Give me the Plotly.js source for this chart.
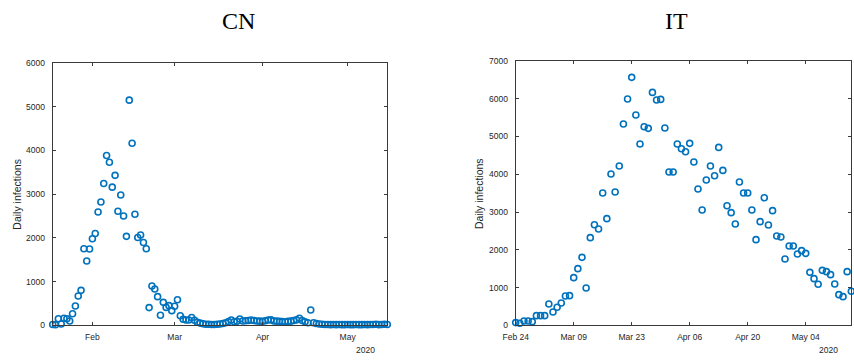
<!DOCTYPE html>
<html>
<head>
<meta charset="utf-8">
<script src="https://cdn.plot.ly/plotly-3.0.1.min.js"></script>
<style>
html, body { margin: 0; padding: 0; background: #ffffff; }
#chart { width: 854px; height: 360px; }
</style>
</head>
<body>
<div id="chart"></div>
<script>
// ---- Data ----
const cnStart = '2020-01-18';
const cnEnd = '2020-05-15';
const cnDaily = [
  20, 15, 150, 30, 160, 150, 100, 265, 440, 670, 800,
  1750, 1470, 1745, 1980, 2100, 2590, 2820, 3245, 3885, 3730,
  3160, 3430, 2610, 2980, 2500, 2035, 5150, 4165, 2540, 2010,
  2065, 1895, 1750, 405, 900, 830, 655, 230, 525, 410,
  450, 335, 435, 585, 220, 140, 120, 120, 180, 115,
  70, 50, 35, 25, 25, 20, 20, 25, 30, 40,
  60, 85, 120, 80, 90, 145, 100, 105, 110, 120,
  110, 100, 95, 90, 105, 120, 125, 100, 95, 90,
  85, 80, 90, 95, 110, 125, 160, 110, 80, 60,
  351,
  60, 40, 30, 25, 20, 20, 15, 20, 15,
  20, 15, 15, 20, 15, 15, 20, 15, 15, 20,
  15, 20, 20, 25, 15, 20, 25, 20
];

const itStart = '2020-02-24';
const itEnd = '2020-05-15';
const itDaily = [
  71, 53, 115, 115, 97, 256, 256, 256, 565, 353,
  477, 591, 777, 785, 1262, 1500, 1800, 988, 2321, 2665,
  2551, 3504, 2824, 4007, 3530, 4219, 5331, 5993, 6567, 5569,
  4801, 5260, 5216, 6169, 5966,
  5983, 5224, 4060, 4060, 4801, 4677, 4598, 4819, 4324, 3609,
  3053, 3847, 4218, 3962, 4712, 4103, 3168, 2983, 2683, 3795,
  3504, 3504, 3053, 2268, 2745, 3380, 2656, 3036, 2365, 2339,
  1756, 2100, 2100, 1889, 1977, 1906, 1403, 1236, 1086, 1456,
  1421, 1341, 1094, 812, 759, 1421, 900
];

const cnTickVals = ['2020-02-01', '2020-03-01', '2020-04-01', '2020-05-01'];
const cnTickText = ['Feb', 'Mar', 'Apr', 'May'];
const itTickVals = ['2020-02-24', '2020-03-09', '2020-03-23', '2020-04-06', '2020-04-20', '2020-05-04'];
const itTickText = ['Feb 24', 'Mar 09', 'Mar 23', 'Apr 06', 'Apr 20', 'May 04'];
const cnYTicks = [0, 1000, 2000, 3000, 4000, 5000, 6000];
const itYTicks = [0, 1000, 2000, 3000, 4000, 5000, 6000, 7000];
const cnTitle = 'CN';
const itTitle = 'IT';
const yLabel = 'Daily infections';
const yearLabel = '2020';

// consecutive daily dates starting at a given day
function dayList(start, n) {
  const out = [];
  const t0 = Date.parse(start + 'T00:00:00Z');
  for (let i = 0; i < n; i++) {
    out.push(new Date(t0 + i * 86400000).toISOString().slice(0, 10));
  }
  return out;
}

const W = 854, H = 360;
const px = x => x / W;
const py = y => 1 - y / H;

const axisColor = '#3a3a3a';
const textColor = '#262626';
const markerColor = '#0072BD';
const tickFont = { family: 'Liberation Sans, Arial, sans-serif', size: 8.5, color: textColor };

function markerTrace(x, y, xa, ya) {
  return {
    type: 'scatter', mode: 'markers', x: x, y: y, xaxis: xa, yaxis: ya,
    cliponaxis: false, hoverinfo: 'x+y',
    marker: { symbol: 'circle-open', size: 6, color: markerColor, line: { width: 1.6, color: markerColor } },
    showlegend: false
  };
}

const traces = [
  markerTrace(dayList(cnStart, cnDaily.length), cnDaily, 'x', 'y'),
  markerTrace(dayList(itStart, itDaily.length), itDaily, 'x2', 'y2')
];

function xAxis(domain, range, vals, text, anchor) {
  return {
    domain: domain, anchor: anchor, type: 'date', range: range,
    tickmode: 'array', tickvals: vals, ticktext: text,
    ticks: 'inside', ticklen: 3, tickwidth: 1, tickcolor: axisColor,
    showline: true, linecolor: axisColor, linewidth: 1, mirror: 'ticks',
    showgrid: false, zeroline: false, tickfont: tickFont, ticklabelstandoff: 3,
    fixedrange: true
  };
}
function yAxis(domain, range, vals, anchor) {
  return {
    domain: domain, anchor: anchor, range: range,
    tickmode: 'array', tickvals: vals, ticktext: vals.map(String),
    ticks: 'inside', ticklen: 3, tickwidth: 1, tickcolor: axisColor,
    showline: true, linecolor: axisColor, linewidth: 1, mirror: 'ticks',
    showgrid: false, zeroline: false, tickfont: tickFont, ticklabelstandoff: 5,
    fixedrange: true
  };
}

const layout = {
  width: W, height: H,
  margin: { l: 0, r: 0, t: 0, b: 0 },
  paper_bgcolor: '#ffffff', plot_bgcolor: '#ffffff',
  showlegend: false,
  xaxis: xAxis([px(52.7), px(387.3)], [cnStart, cnEnd], cnTickVals, cnTickText, 'y'),
  yaxis: yAxis([py(325.3), py(63)], [0, 6000], cnYTicks, 'x'),
  xaxis2: xAxis([px(515.7), px(851.3)], [itStart, itEnd], itTickVals, itTickText, 'y2'),
  yaxis2: yAxis([py(325.3), py(61)], [0, 7000], itYTicks, 'x2'),
  annotations: [
    { text: cnTitle, xref: 'paper', yref: 'paper', x: px(239), y: py(21), xanchor: 'center', yanchor: 'middle',
      showarrow: false, font: { family: 'Liberation Serif, serif', size: 24, color: '#000000' } },
    { text: itTitle, xref: 'paper', yref: 'paper', x: px(676), y: py(21), xanchor: 'center', yanchor: 'middle',
      showarrow: false, font: { family: 'Liberation Serif, serif', size: 24, color: '#000000' } },
    { text: yLabel, xref: 'paper', yref: 'paper', x: px(16.7), y: py(194), xanchor: 'center', yanchor: 'middle',
      textangle: -90, showarrow: false, font: { family: 'Liberation Sans, Arial, sans-serif', size: 10.5, color: textColor } },
    { text: yLabel, xref: 'paper', yref: 'paper', x: px(479), y: py(193), xanchor: 'center', yanchor: 'middle',
      textangle: -90, showarrow: false, font: { family: 'Liberation Sans, Arial, sans-serif', size: 10.5, color: textColor } },
    { text: yearLabel, xref: 'paper', yref: 'paper', x: px(365), y: py(350), xanchor: 'center', yanchor: 'middle',
      showarrow: false, font: tickFont },
    { text: yearLabel, xref: 'paper', yref: 'paper', x: px(828.5), y: py(350), xanchor: 'center', yanchor: 'middle',
      showarrow: false, font: tickFont }
  ]
};

Plotly.newPlot('chart', traces, layout, { displayModeBar: false, staticPlot: true });
</script>
</body>
</html>
